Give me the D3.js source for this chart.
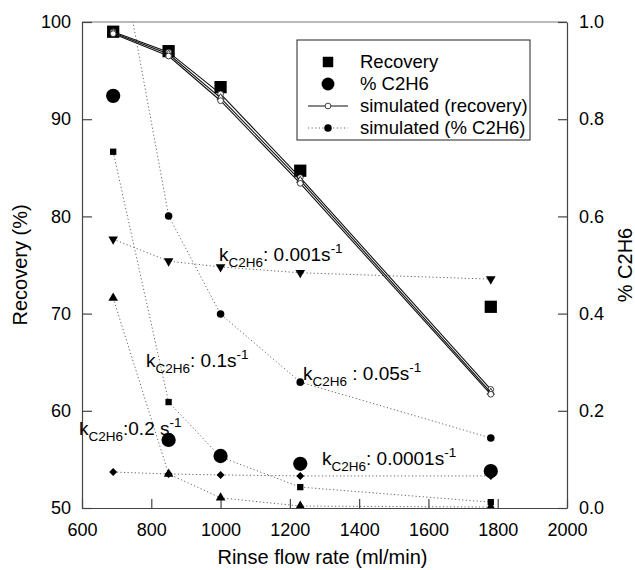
<!DOCTYPE html>
<html>
<head>
<meta charset="utf-8">
<script src="https://cdn.jsdelivr.net/npm/d3@7"></script>
<style>
  html, body { margin: 0; padding: 0; background: #fff; }
  svg { display: block; font-family: "Liberation Sans", Arial, sans-serif; }
</style>
</head>
<body>
<svg id="chart" width="635" height="570"></svg>
<script>
// Rinse flow rates (ml/min)
const flowRates = [690, 850, 1000, 1230, 1780];

// Measured values
const recoveryMeasured = [99.0, 97.0, 93.3, 84.7, 70.7];
const c2h6Measured = [0.848, 0.140, 0.107, 0.091, 0.076];

// Simulated recovery (one curve per rate constant, nearly coincident)
const simRecoveryA = [99.0, 96.9, 92.6, 84.0, 62.2];
const simRecoveryB = [98.9, 96.7, 92.2, 83.7, 61.9];
const simRecoveryC = [98.8, 96.5, 91.9, 83.4, 61.7];

// Simulated C2H6 fraction for each rate constant k_C2H6
const simK00001 = [0.074, 0.070, 0.068, 0.066, 0.066];
const simK0001 = [0.553, 0.508, 0.496, 0.484, 0.471];
const simK005 = [1.22, 0.601, 0.399, 0.259, 0.144];
const simK01 = [0.733, 0.218, 0.105, 0.043, 0.012];
const simK02 = [0.432, 0.070, 0.021, 0.004, 0.002];

const xTicks = [600, 800, 1000, 1200, 1400, 1600, 1800, 2000];
const yLeftTicks = [50, 60, 70, 80, 90, 100];
const yRightTicks = [0.0, 0.2, 0.4, 0.6, 0.8, 1.0];

const svg = d3.select("#chart");
const margin = { left: 82, right: 68, top: 22, bottom: 62 };
const W = 635, H = 570;
const x = d3.scaleLinear().domain([600, 2000]).range([margin.left, W - margin.right]);
const yL = d3.scaleLinear().domain([50, 100]).range([H - margin.bottom, margin.top]);
const yR = d3.scaleLinear().domain([0, 1]).range([H - margin.bottom, margin.top]);

const axisColor = "#444";
const fontSize = 18;

svg.append("defs").append("clipPath").attr("id", "plotClip")
  .append("rect")
  .attr("x", margin.left).attr("y", margin.top)
  .attr("width", x(2000) - x(600)).attr("height", yL(50) - yL(100));

// Frame top line
svg.append("line")
  .attr("x1", x(600)).attr("x2", x(2000))
  .attr("y1", yL(100)).attr("y2", yL(100))
  .attr("stroke", "#777").attr("stroke-width", 1.2);

function styleAxis(g) {
  g.select(".domain").attr("stroke", axisColor).attr("stroke-width", 1.2);
  g.selectAll(".tick line").attr("stroke", axisColor).attr("stroke-width", 1.2);
  g.selectAll(".tick text").attr("fill", "#000")
    .style("font-size", fontSize + "px")
    .style("font-family", "'Liberation Sans', Arial, sans-serif");
}

// Bottom axis, ticks pointing inward
svg.append("g")
  .attr("transform", `translate(0,${yL(50)})`)
  .call(d3.axisBottom(x).tickValues(xTicks).tickFormat(d3.format("d"))
    .tickSizeInner(-9).tickSizeOuter(0).tickPadding(15))
  .call(styleAxis);

// Left axis
svg.append("g")
  .attr("transform", `translate(${x(600)},0)`)
  .call(d3.axisLeft(yL).tickValues(yLeftTicks).tickFormat(d3.format("d"))
    .tickSizeInner(-10).tickSizeOuter(0).tickPadding(11))
  .call(styleAxis);

// Right axis
svg.append("g")
  .attr("transform", `translate(${x(2000)},0)`)
  .call(d3.axisRight(yR).tickValues(yRightTicks).tickFormat(d3.format(".1f"))
    .tickSizeInner(-9).tickSizeOuter(0).tickPadding(12))
  .call(styleAxis);

// Axis titles
svg.append("text")
  .attr("x", (x(600) + x(2000)) / 2 - 2).attr("y", 564)
  .attr("text-anchor", "middle")
  .style("font-size", "20px")
  .text("Rinse flow rate (ml/min)");

svg.append("text")
  .attr("transform", `translate(27,${(yL(50) + yL(100)) / 2}) rotate(-90)`)
  .attr("text-anchor", "middle")
  .style("font-size", "20px")
  .text("Recovery (%)");

svg.append("text")
  .attr("transform", `translate(632,${(yL(50) + yL(100)) / 2}) rotate(-90)`)
  .attr("text-anchor", "middle")
  .style("font-size", "20px")
  .text("% C2H6");

const plot = svg.append("g").attr("clip-path", "url(#plotClip)");

// Dotted simulated C2H6 curves
const simSeries = [
  { values: simK00001, symbol: "diamond" },
  { values: simK0001, symbol: "triDown" },
  { values: simK005, symbol: "circle" },
  { values: simK01, symbol: "square" },
  { values: simK02, symbol: "triUp" }
];

const lineR = d3.line().x(d => x(d[0])).y(d => yR(d[1]));
const lineL = d3.line().x(d => x(d[0])).y(d => yL(d[1]));

simSeries.forEach(s => {
  plot.append("path")
    .datum(flowRates.map((f, i) => [f, s.values[i]]))
    .attr("d", lineR)
    .attr("fill", "none")
    .attr("stroke", "#666")
    .attr("stroke-width", 1)
    .attr("stroke-dasharray", "1.2,2.4");
});

function symbolPath(kind, size) {
  switch (kind) {
    case "circle": return d3.symbol(d3.symbolCircle, size)();
    case "square": return d3.symbol(d3.symbolSquare, size)();
    case "diamond": return d3.symbol(d3.symbolSquare, size)();
    case "triUp": return d3.symbol(d3.symbolTriangle, size)();
    case "triDown": return d3.symbol(d3.symbolTriangle, size)();
  }
}
function symbolRotate(kind) {
  if (kind === "diamond") return 45;
  if (kind === "triDown") return 180;
  return 0;
}

// Big measured markers
plot.selectAll(".recMeas")
  .data(flowRates.map((f, i) => [f, recoveryMeasured[i]]))
  .join("path")
  .attr("d", d3.symbol(d3.symbolSquare, 150)())
  .attr("transform", d => `translate(${x(d[0])},${yL(d[1])})`)
  .attr("fill", "#000");

plot.selectAll(".c2Meas")
  .data(flowRates.map((f, i) => [f, c2h6Measured[i]]))
  .join("path")
  .attr("d", d3.symbol(d3.symbolCircle, 160)())
  .attr("transform", d => `translate(${x(d[0])},${yR(d[1])})`)
  .attr("fill", "#000");

// Small simulated C2H6 markers
simSeries.forEach(s => {
  const size = s.symbol === "circle" ? 45 : (s.symbol === "diamond" ? 32 : 40);
  plot.selectAll(null)
    .data(flowRates.map((f, i) => [f, s.values[i]]))
    .join("path")
    .attr("d", symbolPath(s.symbol, size))
    .attr("transform", d => `translate(${x(d[0])},${yR(d[1])}) rotate(${symbolRotate(s.symbol)})`)
    .attr("fill", "#000");
});

// Simulated recovery curves (solid, open markers)
[simRecoveryA, simRecoveryB, simRecoveryC].forEach((vals, k) => {
  const pts = flowRates.map((f, i) => [f, vals[i]]);
  plot.append("path")
    .datum(pts)
    .attr("d", lineL)
    .attr("fill", "none")
    .attr("stroke", "#111")
    .attr("stroke-width", 1.1);
  plot.selectAll(null)
    .data(pts)
    .join("path")
    .attr("d", k === 1 ? d3.symbol(d3.symbolTriangle, 22)() : d3.symbol(d3.symbolCircle, 26)())
    .attr("transform", d => `translate(${x(d[0])},${yL(d[1])})`)
    .attr("fill", "#fff")
    .attr("stroke", "#111")
    .attr("stroke-width", 0.8);
});

// Rate-constant annotations
const kLabels = [
  { x: 219, y: 261, pre: "k", sub: "C2H6", post: ": 0.001s", sup: "-1" },
  { x: 146, y: 367, pre: "k", sub: "C2H6", post: ": 0.1s", sup: "-1" },
  { x: 79, y: 435, pre: "k", sub: "C2H6", post: ":0.2 s", sup: "-1" },
  { x: 303, y: 380, pre: "k", sub: "C2H6", post: " : 0.05s", sup: "-1" },
  { x: 322, y: 465, pre: "k", sub: "C2H6", post: ": 0.0001s", sup: "-1" }
];
kLabels.forEach(l => {
  const t = svg.append("text").attr("x", l.x).attr("y", l.y).style("font-size", "19px");
  t.append("tspan").text(l.pre);
  t.append("tspan").attr("dy", 6).style("font-size", "13.5px").text(l.sub);
  t.append("tspan").attr("dy", -6).text(l.post);
  t.append("tspan").attr("dy", -8).style("font-size", "13.5px").text(l.sup);
});

// Legend
const lg = svg.append("g");
lg.append("rect")
  .attr("x", 297).attr("y", 40).attr("width", 233).attr("height", 100)
  .attr("fill", "#fff").attr("stroke", "#222").attr("stroke-width", 1);

const legendItems = [
  { label: "Recovery", kind: "bigSquare" },
  { label: "% C2H6", kind: "bigCircle" },
  { label: "simulated (recovery)", kind: "simRec" },
  { label: "simulated (% C2H6)", kind: "simC2" }
];
legendItems.forEach((it, i) => {
  const cy = 62 + i * 22;
  const cx = 328;
  if (it.kind === "simRec") {
    lg.append("line").attr("x1", 308).attr("x2", 348).attr("y1", cy).attr("y2", cy)
      .attr("stroke", "#111").attr("stroke-width", 1.1);
    lg.append("path").attr("d", d3.symbol(d3.symbolCircle, 26)())
      .attr("transform", `translate(${cx},${cy})`)
      .attr("fill", "#fff").attr("stroke", "#111").attr("stroke-width", 0.8);
  } else if (it.kind === "simC2") {
    lg.append("line").attr("x1", 308).attr("x2", 348).attr("y1", cy).attr("y2", cy)
      .attr("stroke", "#666").attr("stroke-width", 1).attr("stroke-dasharray", "1.2,2.4");
    lg.append("path").attr("d", d3.symbol(d3.symbolCircle, 45)())
      .attr("transform", `translate(${cx},${cy})`).attr("fill", "#000");
  } else if (it.kind === "bigSquare") {
    lg.append("path").attr("d", d3.symbol(d3.symbolSquare, 110)())
      .attr("transform", `translate(${cx},${cy})`).attr("fill", "#000");
  } else {
    lg.append("path").attr("d", d3.symbol(d3.symbolCircle, 130)())
      .attr("transform", `translate(${cx},${cy})`).attr("fill", "#000");
  }
  lg.append("text").attr("x", 360).attr("y", cy + 6)
    .style("font-size", "18.5px").text(it.label);
});
</script>
</body>
</html>
